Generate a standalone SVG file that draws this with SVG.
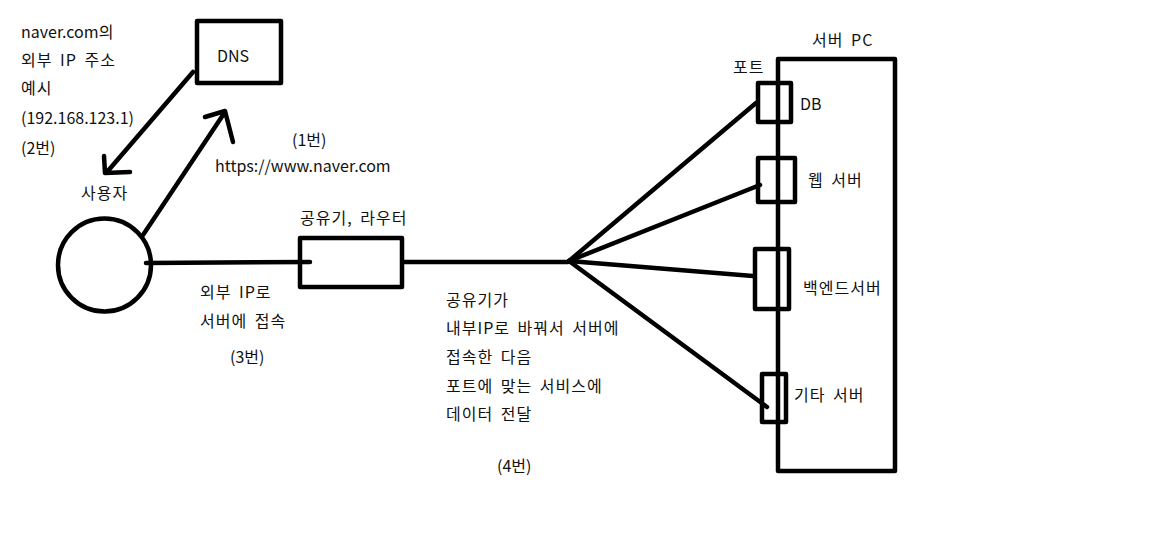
<svg xmlns="http://www.w3.org/2000/svg" width="1152" height="536" viewBox="0 0 1152 536">
<style>
.s{fill:none;stroke:#000;stroke-width:4.5;stroke-linecap:round;stroke-linejoin:round}
text{font-family:"Noto Sans CJK KR","Noto Sans",sans-serif;font-size:16px;fill:#111;word-spacing:3px}
.k{letter-spacing:1px}
</style>
<rect width="1152" height="536" fill="#fff"/>
<g id="notes">
<text x="21" y="38">naver.com의</text>
<text x="21" y="66" class="k">외부 IP 주소</text>
<text x="21" y="94" class="k">예시</text>
<text x="21" y="124">(192.168.123.1)</text>
<text x="21" y="154">(2번)</text>
<text x="292" y="146">(1번)</text>
<text x="215" y="172">https://www.naver.com</text>
<text x="200" y="298" class="k">외부 IP로</text>
<text x="200" y="327" class="k">서버에 접속</text>
<text x="230" y="363">(3번)</text>
<text x="446" y="306" class="k">공유기가</text>
<text x="446" y="334" class="k">내부IP로 바꿔서 서버에</text>
<text x="446" y="363" class="k">접속한 다음</text>
<text x="446" y="392" class="k">포트에 맞는 서비스에</text>
<text x="446" y="420" class="k">데이터 전달</text>
<text x="497" y="472">(4번)</text>
</g>
<g id="dns">
<rect class="s" x="197" y="21" width="84" height="62" stroke-linejoin="miter"/>
<text x="217" y="62">DNS</text>
</g>
<g id="user">
<circle class="s" cx="104.5" cy="265" r="46.5"/>
<text x="81" y="199" class="k">사용자</text>
</g>
<g id="router">
<rect class="s" x="300" y="238" width="102" height="49" stroke-linejoin="miter"/>
<text x="300" y="224" class="k">공유기, 라우터</text>
</g>
<g id="server-pc">
<rect class="s" x="778" y="59" width="117" height="412" stroke-linejoin="miter"/>
<text x="812" y="46" class="k">서버 PC</text>
<text x="733" y="73" class="k">포트</text>
</g>
<g id="port-db">
<rect class="s" x="758" y="83" width="33" height="39" stroke-linejoin="miter"/>
<text x="800" y="110">DB</text>
</g>
<g id="port-web">
<rect class="s" x="758" y="158" width="37" height="44" stroke-linejoin="miter"/>
<text x="808" y="186" class="k">웹 서버</text>
</g>
<g id="port-backend">
<rect class="s" x="755" y="249" width="34" height="60" stroke-linejoin="miter"/>
<text x="803" y="294" class="k">백엔드서버</text>
</g>
<g id="port-other">
<rect class="s" x="762" y="374" width="24" height="48" stroke-linejoin="miter"/>
<text x="794" y="401" class="k">기타 서버</text>
</g>
<g id="connectors">
<path class="s" d="M193 72 L107 172 M104 156 L105 173 L130 172"/>
<path class="s" d="M143 235 L225 112 M205 117 L225 111 L233 142"/>
<path class="s" d="M146 263 L310 262"/>
<path class="s" d="M404 262 L568 262"/>
<path class="s" d="M569 261 L756 103"/>
<path class="s" d="M569 261 L760 185"/>
<path class="s" d="M569 261 L753 276"/>
<path class="s" d="M569 261 L767 407"/>
</g>
</svg>
